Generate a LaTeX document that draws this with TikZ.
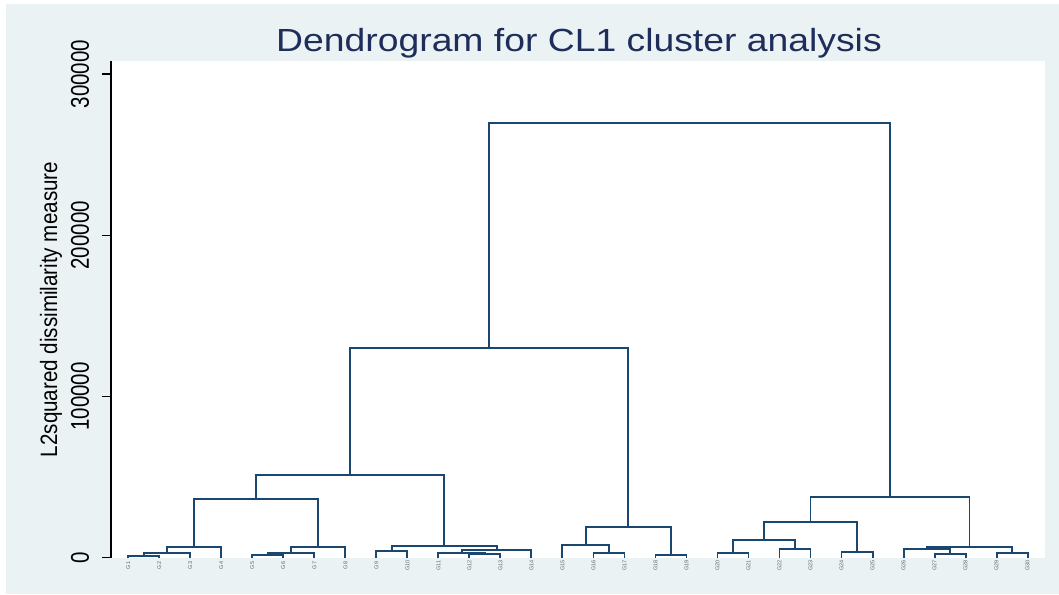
\documentclass[tikz,border=0pt]{standalone}
\usepackage{fontspec}
\setmainfont{Liberation Sans}
\usetikzlibrary{calc}
\definecolor{bgc}{RGB}{234,242,243}
\definecolor{navyc}{RGB}{26,71,111}
\definecolor{titlec}{RGB}{30,45,90}
\newcommand\mrg[4]{%
  \coordinate (tmp) at ($(#2)!0.5!(#3)$);
  \coordinate (hh) at (0,#4);
  \coordinate (#1) at (tmp |- hh);
  \draw[link] (#2) |- (#1) -| (#3);}
\begin{document}
\begin{tikzpicture}[x=1pt,y=-1pt,
  link/.style={draw=navyc,line width=1.9pt,line join=miter},
  leaflab/.style={rotate=90,font=\fontsize{5.5}{6}\selectfont,text=black!60,inner sep=0pt},
  ticklab/.style={rotate=90,inner sep=0pt,font=\fontsize{20.5}{24}\selectfont},
  axisline/.style={draw=black,line width=1.2pt}]
\useasboundingbox (0,0) rectangle (1059,594);
\fill[white] (0,0) rectangle (1059,594);
\fill[bgc] (6,4) rectangle (1059,594);
\fill[white] (111,61) rectangle (1045,558);
% title
\node[anchor=base,text=titlec,inner sep=0pt] (title) at (579,52)
  {\fontsize{32}{38}\selectfont\scalebox{1.166}[1]{Dendrogram for CL1 cluster analysis}};
% y axis
\draw[axisline] (111,61) -- (111,558.3);
\foreach \v/\y/\n in {0/557.7/t0,100000/396.5/t1,200000/235.3/t2,300000/74/t3}{
  \draw[axisline] (102,\y) -- (111,\y);
  \node[ticklab] (\n) at (80,\y) {\scalebox{1}[1.25]{\v}};
}
\node[rotate=90,inner sep=0pt] (ytitle) at (51,309.5)
  {\fontsize{20.6}{24}\selectfont\scalebox{1}[1.15]{L2squared dissimilarity measure}};
% leaves
\foreach \i in {1,...,30}{
  \coordinate (g\i) at ({128.3+31.01*(\i-1)},558);
  \node[leaflab] (lab\i) at ({128.3+31.01*(\i-1)},565.5) {G\i};
}
% merges
\mrg{m12}{g1}{g2}{556}
\mrg{m123}{m12}{g3}{553.3}
\mrg{mA}{m123}{g4}{546.7}
\mrg{m56}{g5}{g6}{555}
\mrg{m567}{m56}{g7}{552.7}
\mrg{mB}{m567}{g8}{546.7}
\mrg{mAB}{mA}{mB}{499.3}
\mrg{m910}{g9}{g10}{550.7}
\mrg{m1213}{g12}{g13}{554.3}
\mrg{m11}{g11}{m1213}{552.7}
\mrg{m14}{m11}{g14}{550}
\mrg{mC}{m910}{m14}{545.7}
\mrg{mABC}{mAB}{mC}{475}
\mrg{m1617}{g16}{g17}{553.3}
\mrg{m15}{g15}{m1617}{545}
\mrg{m1819}{g18}{g19}{555}
\mrg{mD}{m15}{m1819}{527}
\mrg{mL}{mABC}{mD}{348}
\mrg{m2021}{g20}{g21}{552.7}
\mrg{m2223}{g22}{g23}{549}
\mrg{mE1}{m2021}{m2223}{540}
\mrg{m2425}{g24}{g25}{552.3}
\mrg{mE}{mE1}{m2425}{522}
\mrg{m2728}{g27}{g28}{554.3}
\mrg{m26}{g26}{m2728}{549.3}
\mrg{m2930}{g29}{g30}{553.3}
\mrg{mF}{m26}{m2930}{546.7}
\mrg{mR}{mE}{mF}{497}
\mrg{root}{mL}{mR}{123}
\end{tikzpicture}
\end{document}
